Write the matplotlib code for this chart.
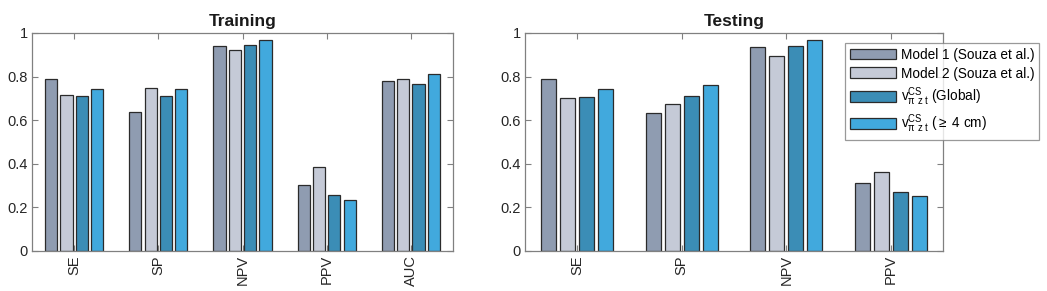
import matplotlib
matplotlib.use("Agg")
import matplotlib.pyplot as plt
import numpy as np

plt.rcParams['font.family'] = ['Liberation Sans', 'DejaVu Sans']
plt.rcParams['mathtext.fontset'] = 'custom'
plt.rcParams['mathtext.rm'] = 'Liberation Sans'
plt.rcParams['mathtext.it'] = 'Liberation Sans'
plt.rcParams['mathtext.bf'] = 'Liberation Sans:bold'

train_cats = ['SE', 'SP', 'NPV', 'PPV', 'AUC']
test_cats = ['SE', 'SP', 'NPV', 'PPV']

series_names = ['Model 1 (Souza et al.)', 'Model 2 (Souza et al.)',
                r'$\mathrm{v}^{\mathrm{CS}}_{\pi\ \mathrm{z\ t}}$ (Global)',
                r'$\mathrm{v}^{\mathrm{CS}}_{\pi\ \mathrm{z\ t}}$ ($\geq$ 4 cm)']
colors = ['#8f9cb1', '#c5cad7', '#3b8db6', '#41a9dd']

train_model1 = [0.788, 0.638, 0.942, 0.301, 0.779]
train_model2 = [0.715, 0.747, 0.922, 0.385, 0.788]
train_global = [0.709, 0.709, 0.945, 0.259, 0.767]
train_4cm = [0.741, 0.741, 0.966, 0.236, 0.813]

test_model1 = [0.788, 0.632, 0.934, 0.311]
test_model2 = [0.701, 0.676, 0.896, 0.363]
test_global = [0.706, 0.712, 0.942, 0.270]
test_4cm = [0.742, 0.761, 0.966, 0.253]

fig = plt.figure(figsize=(10.47, 2.91), dpi=100)
ax1 = fig.add_axes([32/1047, 40/291, 421/1047, 218/291])
ax2 = fig.add_axes([525/1047, 40/291, 418/1047, 218/291])

step = 0.182
width = 0.145
offsets = (np.arange(4) - 1.5) * step

def draw(ax, cats, series, title):
    x = np.arange(1, len(cats) + 1)
    handles = []
    for i, vals in enumerate(series):
        h = ax.bar(x + offsets[i], vals, width, color=colors[i],
                   edgecolor='#2b2b2b', linewidth=0.9, label=series_names[i], zorder=2)
        handles.append(h)
    ax.set_xlim(0.5, len(cats) + 0.5)
    ax.set_ylim(0, 1)
    ax.set_xticks(x)
    ax.set_xticklabels(cats, rotation=90, fontsize=10.5, color='#262626')
    ax.set_yticks([0, 0.2, 0.4, 0.6, 0.8, 1])
    ax.set_yticklabels(['0', '0.2', '0.4', '0.6', '0.8', '1'], fontsize=10.5, color='#262626')
    ax.tick_params(direction='in', top=True, right=True, length=4,
                   color='#808080', width=0.8, pad=3)
    for s in ax.spines.values():
        s.set_color('#808080')
        s.set_linewidth(0.9)
    ax.set_title(title, fontsize=12.5, fontweight='bold', pad=5, color='#1a1a1a')
    return handles

draw(ax1, train_cats, [train_model1, train_model2, train_global, train_4cm], 'Training')
h = draw(ax2, test_cats, [test_model1, test_model2, test_global, test_4cm], 'Testing')

leg = fig.legend(handles=h, labels=series_names, loc='upper right',
                 bbox_to_anchor=(1039/1047, 1 - 43/291), bbox_transform=fig.transFigure,
                 borderaxespad=0, fontsize=9.8, frameon=True, fancybox=False,
                 handlelength=3.4, handleheight=0.85, handletextpad=0.35,
                 labelspacing=0.35, borderpad=0.35)
leg.get_frame().set_edgecolor('#808080')
leg.get_frame().set_linewidth(0.9)

fig.savefig('out.png', dpi=100)
